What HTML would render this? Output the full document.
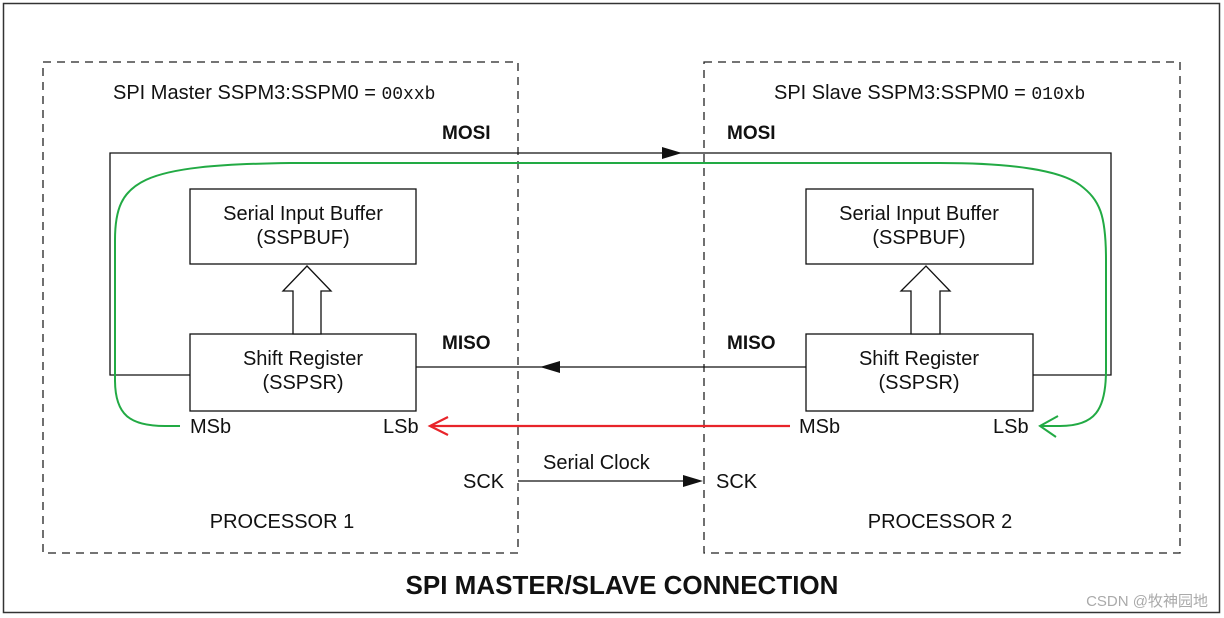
<!DOCTYPE html>
<html><head><meta charset="utf-8"><style>
html,body{margin:0;padding:0;background:#fff;}
svg{display:block;}
text{font-family:"Liberation Sans",Arial,sans-serif;fill:#111;}
</style></head><body>
<svg width="1224" height="618" viewBox="0 0 1224 618" xmlns="http://www.w3.org/2000/svg">
<rect x="0" y="0" width="1224" height="618" fill="#fff"/>
<rect x="3.5" y="3.5" width="1216" height="609" fill="none" stroke="#333" stroke-width="1.5"/>
<g fill="none" stroke="#222" stroke-width="1.3" stroke-dasharray="8,6">
<rect x="43" y="62" width="475" height="491"/>
<rect x="704" y="62" width="476" height="491"/>
</g>
<g fill="none" stroke="#111" stroke-width="1.3">
<rect x="190" y="189" width="226" height="75"/>
<rect x="190" y="334" width="226" height="77"/>
<rect x="806" y="189" width="227" height="75"/>
<rect x="806" y="334" width="227" height="77"/>
<polyline points="190,375 110,375 110,153 1111,153 1111,375 1033,375"/>
<line x1="416" y1="367" x2="806" y2="367"/>
<line x1="518" y1="481" x2="690" y2="481"/>
<polygon points="293,334 293,291 283,291 307,266 331,291 321,291 321,334" fill="#fff"/>
<polygon points="911,334 911,291 901,291 926,266 950,291 940,291 940,334" fill="#fff"/>
</g>
<g fill="#111">
<polygon points="682,153 662,147 662,159"/>
<polygon points="540,367 560,361 560,373"/>
<polygon points="703,481 683,475 683,487"/>
</g>
<g fill="none" stroke="#22aa44" stroke-width="2">
<path d="M180,426 L165,426 C130,426 115,415 115,380 L115,240 C115,180 140,165 290,163 L940,163 C1010,163 1060,170 1080,185 C1100,200 1106,215 1106,260 L1106,370 C1106,410 1095,426 1060,426 L1042,426"/>
<polyline points="1058,416 1040,426 1056,437"/>
</g>
<g fill="none" stroke="#e8242a" stroke-width="2.2">
<line x1="790" y1="426" x2="432" y2="426"/>
<polyline points="448,417 430,426 448,435"/>
</g>
<g font-size="20">
<text x="113" y="99">SPI Master SSPM3:SSPM0 = <tspan font-family="Liberation Mono,monospace" font-size="18">00xxb</tspan></text>
<text x="774" y="99">SPI Slave SSPM3:SSPM0 = <tspan font-family="Liberation Mono,monospace" font-size="18">010xb</tspan></text>
<text x="303" y="220" text-anchor="middle">Serial Input Buffer</text>
<text x="303" y="244" text-anchor="middle">(SSPBUF)</text>
<text x="919" y="220" text-anchor="middle">Serial Input Buffer</text>
<text x="919" y="244" text-anchor="middle">(SSPBUF)</text>
<text x="303" y="365" text-anchor="middle">Shift Register</text>
<text x="303" y="389" text-anchor="middle">(SSPSR)</text>
<text x="919" y="365" text-anchor="middle">Shift Register</text>
<text x="919" y="389" text-anchor="middle">(SSPSR)</text>
<text x="190" y="433">MSb</text>
<text x="383" y="433">LSb</text>
<text x="799" y="433">MSb</text>
<text x="993" y="433">LSb</text>
<text x="463" y="488">SCK</text>
<text x="716" y="488">SCK</text>
<text x="543" y="469">Serial Clock</text>
<text x="282" y="528" text-anchor="middle">PROCESSOR 1</text>
<text x="940" y="528" text-anchor="middle">PROCESSOR 2</text>
</g>
<g font-size="19" font-weight="bold">
<text x="442" y="139">MOSI</text>
<text x="727" y="139">MOSI</text>
<text x="442" y="349">MISO</text>
<text x="727" y="349">MISO</text>
</g>
<text x="622" y="594" text-anchor="middle" font-size="26" font-weight="bold">SPI MASTER/SLAVE CONNECTION</text>
<text x="1208" y="606" text-anchor="end" font-size="15" style="fill:#aaa;font-family:'Liberation Sans','Noto Sans CJK SC',sans-serif">CSDN @牧神园地</text>
</svg>
</body></html>
